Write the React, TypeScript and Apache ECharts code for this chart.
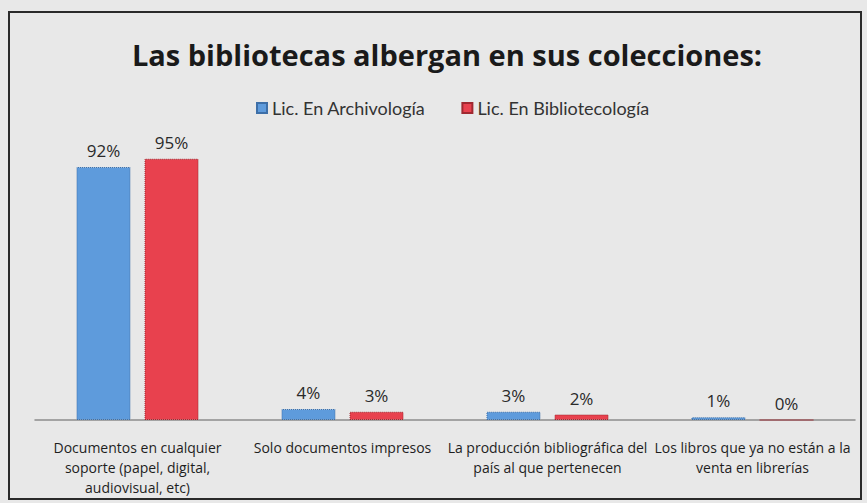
import React, { useEffect, useRef } from "react";
import * as echarts from "echarts";

const categories = [
  "Documentos en cualquier\nsoporte (papel, digital,\naudiovisual, etc)",
  "Solo documentos impresos",
  "La producción bibliográfica del\npaís al que pertenecen",
  "Los libros que ya no están a la\nventa en librerías",
];
const archivologia = [92, 4, 3, 1];
const bibliotecologia = [95, 3, 2, 0];
const seriesNames = ["Lic. En Archivología", "Lic. En Bibliotecología"];
const title = "Las bibliotecas albergan en sus colecciones:";

export default function App() {
  const ref = useRef<HTMLDivElement>(null);
  useEffect(() => {
    if (!ref.current) return;
    const chart = echarts.init(ref.current, null, { renderer: "svg" });
    const labelStyle = {
      show: true,
      position: "top",
      formatter: "{c}%",
      color: "#2a2a2a",
      fontSize: 17,
      fontFamily: "'Open Sans', sans-serif",
      distance: 8,
    };
    chart.setOption({
      animation: false,
      backgroundColor: "#e8e8e8",
      title: {
        text: title,
        left: 442,
        textAlign: "center",
        top: 35,
        textStyle: {
          fontSize: 29,
          fontWeight: "bold",
          color: "#1a1a1a",
          fontFamily: "'Open Sans', sans-serif",
        },
      },
      legend: {
        data: seriesNames,
        top: 94,
        left: 251,
        itemWidth: 10,
        itemHeight: 10,
        itemGap: 36,
        icon: "rect",
        textStyle: {
          fontSize: 18,
          color: "#333",
          fontFamily: "Lato, 'Open Sans', sans-serif",
        },
      },
      grid: { left: 35, right: 12, top: 145, height: 275 },
      xAxis: {
        type: "category",
        data: categories,
        axisLine: { show: true, lineStyle: { color: "#8c8c8c", width: 1.5 } },
        axisTick: { show: false },
        axisLabel: {
          interval: 0,
          color: "#1e1e1e",
          fontSize: 14,
          lineHeight: 20,
          margin: 17,
          fontFamily: "'Open Sans', sans-serif",
        },
      },
      yAxis: {
        type: "value",
        min: 0,
        max: 100,
        show: false,
        splitLine: { show: false },
      },
      series: [
        {
          name: seriesNames[0],
          type: "bar",
          data: archivologia,
          barWidth: 54,
          barGap: "26%",
          itemStyle: { color: "#5e9bdc", borderColor: "#3d6fa8", borderWidth: 1, borderType: "dotted" },
          label: labelStyle,
        },
        {
          name: seriesNames[1],
          type: "bar",
          data: bibliotecologia,
          barWidth: 54,
          itemStyle: { color: "#e8414e", borderColor: "#a02830", borderWidth: 1, borderType: "dotted" },
          label: labelStyle,
        },
      ],
      graphic: [
        {
          type: "rect",
          shape: { x: 9, y: 12, width: 852, height: 487 },
          style: { fill: "none", stroke: "#2a2a2a", lineWidth: 2 },
          silent: true,
        },
      ],
    });
    return () => chart.dispose();
  }, []);
  return (
    <div
      ref={ref}
      style={{ position: "fixed", left: 0, top: 0, width: 867, height: 503 }}
    />
  );
}
